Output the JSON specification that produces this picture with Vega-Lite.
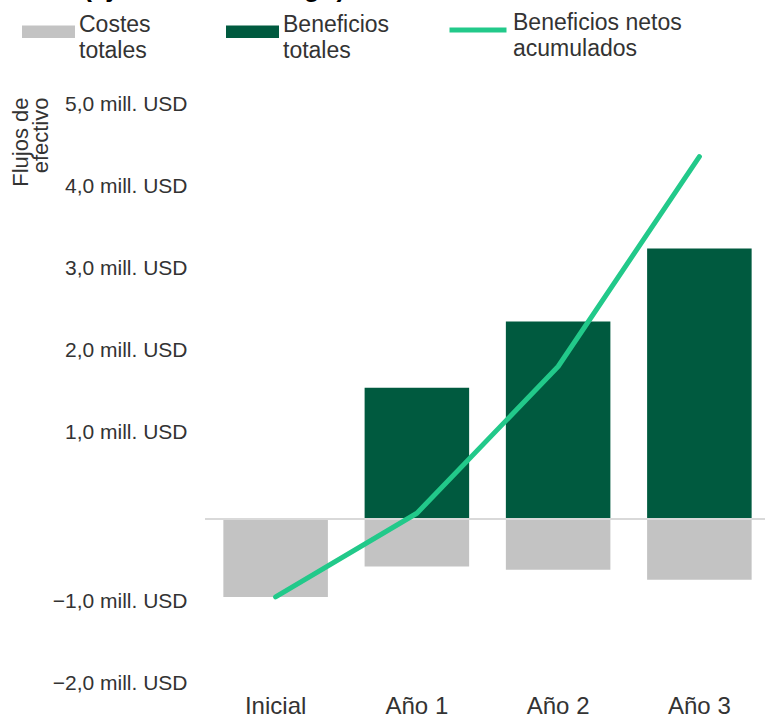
{
  "$schema": "https://vega.github.io/schema/vega-lite/v6.json",
  "width": 565,
  "height": 574,
  "autosize": {"type": "none"},
  "padding": {"left": 205, "top": 109, "right": 0, "bottom": 36},
  "background": "white",
  "config": {"view": {"stroke": null}, "font": "Liberation Sans", "style": {"guide-label": {"lineHeight": 26}}},
  "title": {"text": "(ajustados al riesgo)", "anchor": "start", "frame": "group", "fontSize": 27, "fontWeight": "bold", "color": "#000000", "dx": -122, "offset": -24, "baseline": "alphabetic"},
  "datasets": {
    "barras": [
      {"periodo": "Inicial", "serie": "Costes totales", "valor": -0.95},
      {"periodo": "Año 1", "serie": "Costes totales", "valor": -0.58},
      {"periodo": "Año 2", "serie": "Costes totales", "valor": -0.62},
      {"periodo": "Año 3", "serie": "Costes totales", "valor": -0.74},
      {"periodo": "Inicial", "serie": "Beneficios totales", "valor": 0},
      {"periodo": "Año 1", "serie": "Beneficios totales", "valor": 1.6},
      {"periodo": "Año 2", "serie": "Beneficios totales", "valor": 2.41},
      {"periodo": "Año 3", "serie": "Beneficios totales", "valor": 3.3}
    ],
    "neto": [
      {"periodo": "Inicial", "neto": -0.95},
      {"periodo": "Año 1", "neto": 0.07},
      {"periodo": "Año 2", "neto": 1.86},
      {"periodo": "Año 3", "neto": 4.42}
    ]
  },
  "layer": [
    {
      "data": {"name": "barras"},
      "mark": {"type": "bar"},
      "encoding": {
        "x": {
          "field": "periodo", "type": "nominal",
          "sort": ["Inicial", "Año 1", "Año 2", "Año 3"],
          "scale": {"paddingInner": 0.26, "paddingOuter": 0.13},
          "axis": {"title": null, "domain": false, "ticks": false, "labelAngle": 0, "labelFontSize": 24, "labelColor": "#333333", "labelPadding": 11, "labelBaseline": "top"}
        },
        "y": {
          "field": "valor", "type": "quantitative", "stack": "zero",
          "scale": {"domain": [-2, 5], "nice": false, "zero": false},
          "axis": {
            "values": [-2, -1, 1, 2, 3, 4, 5],
            "labelExpr": "replace(format(datum.value, '.1f'), '.', ',') + ' mill. USD'",
            "domain": false, "ticks": false, "grid": false,
            "labelFontSize": 21, "labelColor": "#333333", "labelPadding": 18,
            "labelOffset": {"condition": {"test": "datum.value > 0", "value": -5}, "value": 0},
            "title": ["Flujos de", "efectivo"],
            "titleAngle": 270, "titleAlign": "right", "titleBaseline": "top",
            "titleX": -195, "titleY": -12,
            "titleFontSize": 22, "titleFontWeight": "normal", "titleColor": "#333333", "titleLineHeight": 20
          }
        },
        "fill": {
          "field": "serie", "type": "nominal",
          "scale": {"domain": ["Costes totales", "Beneficios totales"], "range": ["#c3c3c3", "#005a3f"]},
          "legend": {
            "title": null, "orient": "none", "legendX": -183, "legendY": -104,
            "direction": "horizontal", "columns": 2, "columnPadding": 75,
            "symbolType": "M-1,-0.24H1V0.24H-1Z", "symbolSize": 2809, "symbolStrokeWidth": 0,
            "labelExpr": "datum.label == 'Costes totales' ? ['Costes', 'totales'] : ['Beneficios', 'totales']",
            "labelFontSize": 23, "labelColor": "#333333", "labelOffset": 4, "labelLimit": 300, "labelBaseline": "alphabetic"
          }
        }
      }
    },
    {
      "data": {"values": [{}]},
      "mark": {"type": "rule", "color": "#d9d9d9", "strokeWidth": 2},
      "encoding": {"y": {"datum": 0}}
    },
    {
      "data": {"name": "neto"},
      "mark": {"type": "line", "strokeWidth": 5, "strokeCap": "round", "strokeJoin": "round"},
      "encoding": {
        "x": {"field": "periodo", "type": "nominal", "sort": ["Inicial", "Año 1", "Año 2", "Año 3"]},
        "y": {"field": "neto", "type": "quantitative"},
        "stroke": {
          "datum": "Beneficios netos acumulados", "type": "nominal",
          "scale": {"range": ["#22c98a"]},
          "legend": {
            "title": null, "orient": "none", "legendX": 242, "legendY": -110,
            "symbolType": "stroke", "symbolSize": 3249, "symbolStrokeWidth": 5,
            "labelExpr": "['Beneficios netos', 'acumulados']",
            "labelFontSize": 23, "labelColor": "#333333", "labelOffset": 4, "labelLimit": 300, "labelBaseline": "alphabetic"
          }
        }
      }
    }
  ]
}
